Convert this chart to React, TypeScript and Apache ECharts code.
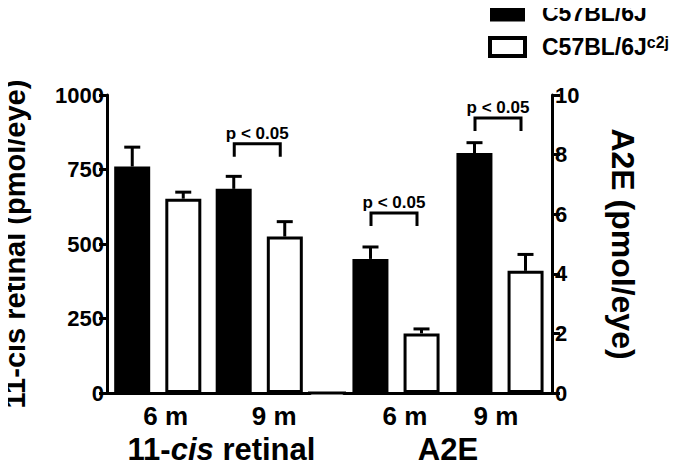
import React, { useEffect, useRef } from 'react';
import * as echarts from 'echarts';

// ---- data ----
const ageLabels = ['6 m', '9 m'];
const strainNames = ['C57BL/6J', 'C57BL/6Jc2j'];
const retinalWT = [760, 685];
const retinalWTErr = [65, 42];
const retinalC2J = [652, 525];
const retinalC2JErr = [22, 50];
const a2eWT = [4.5, 8.05];
const a2eWTErr = [0.4, 0.35];
const a2eC2J = [2.0, 4.1];
const a2eC2JErr = [0.15, 0.55];
const retinalTicks = { min: 0, max: 1000, interval: 250 };
const a2eTicks = { min: 0, max: 10, interval: 2 };
const pLabel = 'p < 0.05';
const retinalBrackets = [[1, 836]];
const a2eBrackets = [[0, 6.04], [1, 9.23]];

const FONT = '"Liberation Sans", Arial, Helvetica, sans-serif';
const BAR_W = 36;
const HALF = 25.5;

function errRender(offset: number) {
  return (params: any, api: any) => {
    const cat = api.value(0);
    const v = api.value(1);
    const e = api.value(2);
    const base = api.coord([cat, v]);
    const top = api.coord([cat, v + e]);
    const x = base[0] + offset;
    return {
      type: 'group',
      children: [
        { type: 'line', shape: { x1: x, y1: base[1], x2: x, y2: top[1] }, style: { stroke: '#000', lineWidth: 3 } },
        { type: 'line', shape: { x1: x - 8, y1: top[1], x2: x + 8, y2: top[1] }, style: { stroke: '#000', lineWidth: 3 } },
      ],
    };
  };
}

function bracketRender(params: any, api: any) {
  const c = api.coord([api.value(0), api.value(1)]);
  const xl = c[0] - 25;
  const xr = c[0] + 21;
  const y = c[1];
  return {
    type: 'group',
    children: [
      {
        type: 'polyline',
        shape: { points: [[xl, y + 13], [xl, y], [xr, y], [xr, y + 13]] },
        style: { stroke: '#000', lineWidth: 3, fill: 'none' },
      },
      {
        type: 'text',
        style: {
          text: pLabel,
          x: (xl + xr) / 2,
          y: y - 2,
          align: 'center',
          verticalAlign: 'bottom',
          fontSize: 17,
          fontWeight: 'bold',
          fontFamily: FONT,
          fill: '#000',
        },
      },
    ],
  };
}

function xLabelStyle(shifts: number[]) {
  const rich: any = {};
  shifts.forEach((s, i) => {
    rich['c' + i] = {
      color: '#000', fontSize: 26, fontWeight: 'bold', fontFamily: FONT,
      padding: s >= 0 ? [0, 0, 0, 2 * s] : [0, -2 * s, 0, 0],
    };
  });
  return {
    color: '#000', fontSize: 26, fontWeight: 'bold', fontFamily: FONT, margin: 10,
    interval: 0,
    formatter: (v: string, i: number) => `{c${i}|${v}}`,
    rich,
  };
}

export default function App() {
  const ref = useRef<HTMLDivElement>(null);
  useEffect(() => {
    if (!ref.current) return;
    const chart = echarts.init(ref.current, null, { renderer: 'svg' });
    const axisLine = { show: true, lineStyle: { color: '#000', width: 3 } };
    const yLabel = {
      color: '#000', fontSize: 22, fontWeight: 'bold', fontFamily: FONT, margin: 3,
      formatter: (v: number) => String(v),
    };
    const xCommon = {
      type: 'category',
      data: ageLabels,
      axisLine,
      axisTick: { show: false },
      nameLocation: 'middle',
      nameGap: 32,
    };
    const errData = (vals: number[], errs: number[]) => vals.map((v, i) => [i, v, errs[i]]);
    const option: any = {
      animation: false,
      backgroundColor: '#fff',
      textStyle: { fontFamily: FONT },
      legend: {
        orient: 'vertical',
        left: 488,
        top: 1,
        padding: 0,
        itemWidth: 35,
        itemHeight: 18,
        itemGap: 10,
        icon: 'rect',
        data: [
          { name: strainNames[0], itemStyle: { color: '#000', borderWidth: 0 } },
          { name: strainNames[1], itemStyle: { color: '#fff', borderColor: '#000', borderWidth: 4 } },
        ],
        formatter: (name: string) => (name === strainNames[1] ? '{m|C57BL/6J}{sup|c2j}' : '{m|' + name + '}'),
        textStyle: {
          color: '#000',
          fontSize: 23,
          fontWeight: 'bold',
          fontFamily: FONT,
          padding: [0, 0, 0, 12],
          rich: {
            m: { fontSize: 23, fontWeight: 'bold', fontFamily: FONT, color: '#000', lineHeight: 24 },
            sup: { fontSize: 16, fontWeight: 'bold', fontFamily: FONT, color: '#000', padding: [0, 0, 10, 0] },
          },
        },
      },
      grid: [
        { left: 107, right: 367, top: 95, bottom: 75, containLabel: false, outerBoundsMode: 'none' },
        { left: 344, right: 125, top: 95, bottom: 75, containLabel: false, outerBoundsMode: 'none' },
      ],
      xAxis: [
        {
          ...xCommon,
          gridIndex: 0,
          axisLabel: xLabelStyle([8, 15]),
          name: '11-{i|cis} retinal',
          nameTextStyle: {
            color: '#000', fontSize: 31, fontWeight: 'bold', fontFamily: FONT, padding: [0, 0, 0, 26],
            rich: { i: { fontStyle: 'italic', fontSize: 31, fontWeight: 'bold', fontFamily: FONT, color: '#000' } },
          },
        },
        {
          ...xCommon,
          gridIndex: 1,
          axisLabel: xLabelStyle([9, -4]),
          name: 'A2E',
          nameTextStyle: { color: '#000', fontSize: 31, fontWeight: 'bold', fontFamily: FONT },
        },
      ],
      yAxis: [
        {
          type: 'value',
          gridIndex: 0,
          position: 'left',
          ...retinalTicks,
          axisLine,
          axisTick: { show: true, length: 8, lineStyle: { color: '#000', width: 3 } },
          axisLabel: yLabel,
          splitLine: { show: false },
          name: '11-cis retinal (pmol/eye)',
          nameLocation: 'middle',
          nameGap: 78,
          nameTextStyle: { color: '#000', fontSize: 29, fontWeight: 'bold', fontFamily: FONT },
        },
        {
          type: 'value',
          gridIndex: 1,
          position: 'right',
          ...a2eTicks,
          axisLine,
          axisTick: { show: true, length: 8, lineStyle: { color: '#000', width: 3 } },
          axisLabel: yLabel,
          splitLine: { show: false },
          name: 'A2E (pmol/eye)',
          nameLocation: 'middle',
          nameRotate: -90,
          nameGap: 55,
          nameTextStyle: { color: '#000', fontSize: 32, fontWeight: 'bold', fontFamily: FONT },
        },
      ],
      graphic: [
        { type: 'line', shape: { x1: 308, y1: 393, x2: 346, y2: 393 }, style: { stroke: '#000', lineWidth: 3 } },
      ],
      series: [
        {
          type: 'bar', name: strainNames[0], xAxisIndex: 0, yAxisIndex: 0, data: retinalWT,
          barWidth: BAR_W, barGap: '42%', itemStyle: { color: '#000' },
        },
        {
          type: 'bar', name: strainNames[1], xAxisIndex: 0, yAxisIndex: 0, data: retinalC2J,
          barWidth: BAR_W, barGap: '42%', itemStyle: { color: '#fff', borderColor: '#000', borderWidth: 3 },
        },
        {
          type: 'bar', name: strainNames[0], xAxisIndex: 1, yAxisIndex: 1, data: a2eWT,
          barWidth: BAR_W, barGap: '42%', itemStyle: { color: '#000' },
        },
        {
          type: 'bar', name: strainNames[1], xAxisIndex: 1, yAxisIndex: 1, data: a2eC2J,
          barWidth: BAR_W, barGap: '42%', itemStyle: { color: '#fff', borderColor: '#000', borderWidth: 3 },
        },
        {
          type: 'custom', xAxisIndex: 0, yAxisIndex: 0, renderItem: errRender(-HALF),
          data: errData(retinalWT, retinalWTErr), encode: { x: 0, y: 1 }, z: 1,
        },
        {
          type: 'custom', xAxisIndex: 0, yAxisIndex: 0, renderItem: errRender(HALF),
          data: errData(retinalC2J, retinalC2JErr), encode: { x: 0, y: 1 }, z: 1,
        },
        {
          type: 'custom', xAxisIndex: 1, yAxisIndex: 1, renderItem: errRender(-HALF),
          data: errData(a2eWT, a2eWTErr), encode: { x: 0, y: 1 }, z: 1,
        },
        {
          type: 'custom', xAxisIndex: 1, yAxisIndex: 1, renderItem: errRender(HALF),
          data: errData(a2eC2J, a2eC2JErr), encode: { x: 0, y: 1 }, z: 1,
        },
        {
          type: 'custom', xAxisIndex: 0, yAxisIndex: 0, renderItem: bracketRender,
          data: retinalBrackets, encode: { x: 0, y: 1 },
        },
        {
          type: 'custom', xAxisIndex: 1, yAxisIndex: 1, renderItem: bracketRender,
          data: a2eBrackets, encode: { x: 0, y: 1 },
        },
      ],
    };
    chart.setOption(option);
    return () => chart.dispose();
  }, []);
  return <div ref={ref} style={{ width: 677, height: 468, margin: -8 }} />;
}
